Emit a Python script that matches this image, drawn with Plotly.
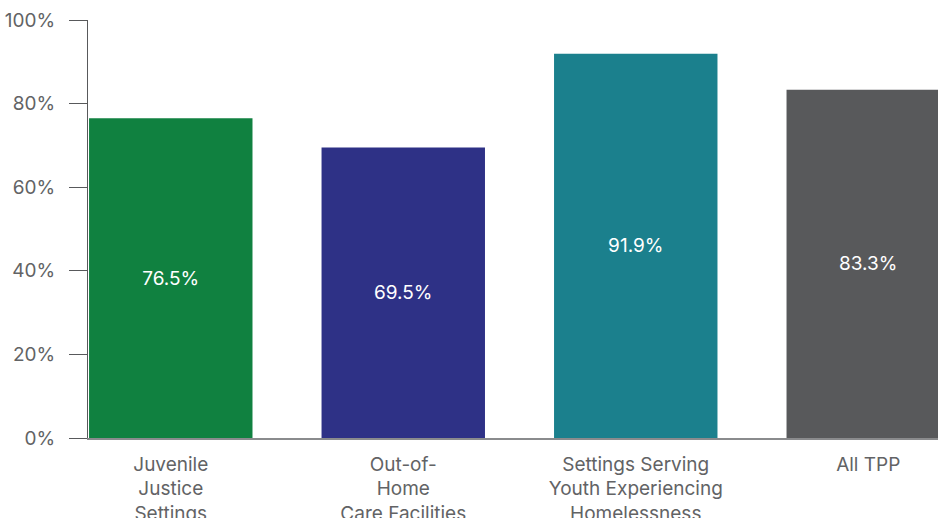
import plotly.graph_objects as go

categories = ["Juvenile<br>Justice<br>Settings", "Out-of-<br>Home<br>Care Facilities",
              "Settings Serving<br>Youth Experiencing<br>Homelessness", "All TPP"]
values = [76.5, 69.5, 91.9, 83.3]
labels = ["76.5%", "69.5%", "91.9%", "83.3%"]
colors = ["#108140", "#2e3186", "#1b808d", "#58595b"]
y_ticks = [0, 20, 40, 60, 80, 100]
y_tick_labels = ["0%", "20%", "40%", "60%", "80%", "100%"]

FONT = "Inter"
TXT = "#626365"
FS = 19

fig = go.Figure(go.Bar(
    x=list(range(len(categories))), y=values,
    marker=dict(color=colors, line=dict(width=0)),
    text=labels, textposition="inside", insidetextanchor="middle",
    textfont=dict(color="white", size=FS, family=FONT),
    width=0.703, cliponaxis=True,
))

fig.update_layout(
    width=938, height=518,
    margin=dict(l=88, r=0, t=20, b=80),
    plot_bgcolor="white", paper_bgcolor="white",
    showlegend=False,
    font=dict(family=FONT, size=FS, color=TXT),
    xaxis=dict(
        range=[-0.356, 3.30], tickmode="array",
        tickvals=list(range(len(categories))), ticktext=categories,
        showgrid=False, zeroline=False, showline=True, linecolor="#8a8b8d", linewidth=1.5,
        ticks="", tickfont=dict(size=FS, color=TXT), ticklabelstandoff=8,
        ticklabeloverflow="allow", automargin=False,
    ),
    yaxis=dict(
        range=[0, 100], tickmode="array", tickvals=y_ticks, ticktext=y_tick_labels,
        showgrid=False, zeroline=False, showline=True, linecolor="#58595b", linewidth=1,
        ticks="outside", ticklen=18, tickcolor="#58595b", tickwidth=1,
        tickfont=dict(size=FS, color=TXT), ticklabelstandoff=10,
        ticklabeloverflow="allow", automargin=False,
    ),
)

fig.write_html(
    "out.html",
    config={"displayModeBar": False},
    post_script="document.body.style.margin='0';document.body.style.overflow='hidden';",
)
